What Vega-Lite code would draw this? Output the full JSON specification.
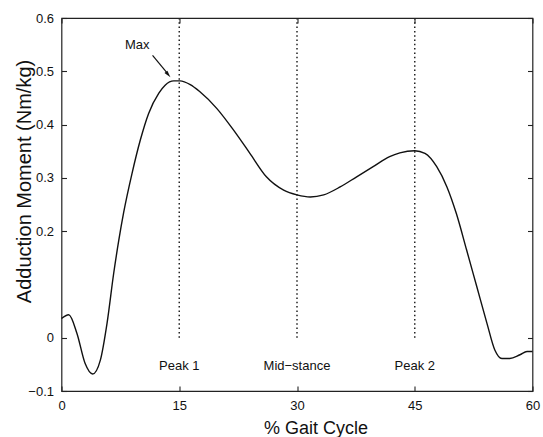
{
  "$schema": "https://vega.github.io/schema/vega-lite/v6.json",
  "width": 471,
  "height": 373,
  "autosize": {"type": "none"},
  "padding": {"left": 61.5, "top": 18, "right": 10.5, "bottom": 46},
  "background": "white",
  "config": {
    "view": {"stroke": "#222", "strokeWidth": 1.2},
    "font": "Liberation Sans",
    "axis": {
      "grid": false,
      "domain": false,
      "labelFlush": false,
      "tickColor": "#222",
      "tickSize": 5,
      "tickWidth": 1.1,
      "labelFont": "Liberation Sans",
      "labelFontSize": 13,
      "labelColor": "#111",
      "titleFont": "Liberation Sans",
      "titleFontWeight": "normal",
      "titleColor": "#111"
    }
  },
  "datasets": {
    "curve": [
      {"pct": 0, "moment": 0.036},
      {"pct": 0.92, "moment": 0.043},
      {"pct": 1.97, "moment": 0.008},
      {"pct": 3.0, "moment": -0.048},
      {"pct": 3.97, "moment": -0.068},
      {"pct": 4.95, "moment": -0.042},
      {"pct": 5.8, "moment": 0.027},
      {"pct": 6.65, "moment": 0.121},
      {"pct": 7.3, "moment": 0.183},
      {"pct": 7.92, "moment": 0.235},
      {"pct": 8.98, "moment": 0.308},
      {"pct": 10.04, "moment": 0.371},
      {"pct": 11.1, "moment": 0.421},
      {"pct": 12.4, "moment": 0.459},
      {"pct": 13.2, "moment": 0.474},
      {"pct": 14.3, "moment": 0.482},
      {"pct": 15.1, "moment": 0.482},
      {"pct": 16.4, "moment": 0.475},
      {"pct": 17.6, "moment": 0.462},
      {"pct": 19.8, "moment": 0.43},
      {"pct": 21.9, "moment": 0.39},
      {"pct": 24.0, "moment": 0.346},
      {"pct": 26.1, "moment": 0.302},
      {"pct": 28.3, "moment": 0.277},
      {"pct": 30.0, "moment": 0.268},
      {"pct": 31.7, "moment": 0.264},
      {"pct": 33.4, "moment": 0.268},
      {"pct": 35.5, "moment": 0.283},
      {"pct": 37.6, "moment": 0.302},
      {"pct": 39.7, "moment": 0.321},
      {"pct": 41.8, "moment": 0.34},
      {"pct": 43.1, "moment": 0.347},
      {"pct": 45.0, "moment": 0.351},
      {"pct": 46.3, "moment": 0.346},
      {"pct": 47.8, "moment": 0.321},
      {"pct": 49.1, "moment": 0.283},
      {"pct": 50.3, "moment": 0.233},
      {"pct": 51.6, "moment": 0.165},
      {"pct": 52.9, "moment": 0.096},
      {"pct": 54.2, "moment": 0.027},
      {"pct": 55.2, "moment": -0.023},
      {"pct": 56.1, "moment": -0.039},
      {"pct": 57.1, "moment": -0.039},
      {"pct": 58.4, "moment": -0.032},
      {"pct": 59.3, "moment": -0.026},
      {"pct": 60, "moment": -0.026}
    ],
    "events": [
      {"pct": 15, "label": "Peak 1", "ybottom": 0, "ytop": 0.6, "ylabel": -0.061},
      {"pct": 30, "label": "Mid−stance", "ybottom": 0, "ytop": 0.6, "ylabel": -0.061},
      {"pct": 45, "label": "Peak 2", "ybottom": 0, "ytop": 0.6, "ylabel": -0.061}
    ],
    "annot": [
      {"label": "Max", "tx": 9.64, "ty": 0.541, "ax": 11.6, "ay": 0.53, "bx": 13.5, "by": 0.496, "hx": 13.54, "hy": 0.4947}
    ]
  },
  "layer": [
    {
      "data": {"name": "events"},
      "mark": {"type": "rule", "strokeDash": [1.5, 2.8], "strokeWidth": 1.5, "color": "#222"},
      "encoding": {
        "x": {"field": "pct", "type": "quantitative", "scale": {"domain": [0, 60], "nice": false},
          "axis": {"orient": "top", "offset": -5, "values": [0, 15, 30, 45, 60], "labels": false, "title": null}},
        "y": {"field": "ybottom", "type": "quantitative", "scale": {"domain": [-0.1, 0.6], "nice": false, "zero": false},
          "axis": {"orient": "right", "offset": -5, "values": [-0.1, 0, 0.2, 0.3, 0.4, 0.5, 0.6], "labels": false, "title": null}},
        "y2": {"field": "ytop"}
      }
    },
    {
      "data": {"name": "curve"},
      "mark": {"type": "line", "color": "#111", "strokeWidth": 1.4, "interpolate": "monotone"},
      "encoding": {
        "x": {"field": "pct", "type": "quantitative",
          "axis": {"orient": "bottom", "values": [0, 15, 30, 45, 60], "ticks": false, "title": "% Gait Cycle",
            "titleFontSize": 18, "labelPadding": 8, "titleX": 254, "titleY": 42, "titleBaseline": "alphabetic"}},
        "y": {"field": "moment", "type": "quantitative",
          "axis": {"orient": "left", "values": [-0.1, 0, 0.2, 0.3, 0.4, 0.5, 0.6], "format": ".1~f", "ticks": false,
            "title": "Adduction Moment (Nm/kg)", "titleFontSize": 20, "labelPadding": 8,
            "titleX": -31, "titleY": 163, "titleBaseline": "alphabetic", "titleAngle": -90}}
      }
    },
    {
      "data": {"name": "events"},
      "mark": {"type": "text", "fontSize": 13, "color": "#111", "align": "center", "baseline": "alphabetic"},
      "encoding": {
        "x": {"field": "pct", "type": "quantitative",
          "axis": {"orient": "bottom", "offset": -5, "values": [0, 15, 30, 45, 60], "labels": false, "title": null}},
        "y": {"field": "ylabel", "type": "quantitative",
          "axis": {"orient": "left", "offset": -5, "values": [-0.1, 0, 0.2, 0.3, 0.4, 0.5, 0.6], "labels": false, "title": null}},
        "text": {"field": "label"}
      }
    },
    {
      "data": {"name": "annot"},
      "mark": {"type": "text", "fontSize": 13, "color": "#111", "align": "center", "baseline": "alphabetic"},
      "encoding": {
        "x": {"field": "tx", "type": "quantitative", "axis": null},
        "y": {"field": "ty", "type": "quantitative", "axis": null},
        "text": {"field": "label"}
      }
    },
    {
      "data": {"name": "annot"},
      "mark": {"type": "rule", "color": "#111", "strokeWidth": 1.2},
      "encoding": {
        "x": {"field": "ax", "type": "quantitative", "axis": null},
        "y": {"field": "ay", "type": "quantitative", "axis": null},
        "x2": {"field": "bx"},
        "y2": {"field": "by"}
      }
    },
    {
      "data": {"name": "annot"},
      "mark": {"type": "point", "shape": "M0,-1L0.45,0.7L-0.45,0.7Z", "filled": true, "color": "#111", "opacity": 1, "size": 70, "angle": 141},
      "encoding": {
        "x": {"field": "hx", "type": "quantitative", "axis": null},
        "y": {"field": "hy", "type": "quantitative", "axis": null}
      }
    }
  ],
  "resolve": {"axis": {"x": "independent", "y": "independent"}}
}
